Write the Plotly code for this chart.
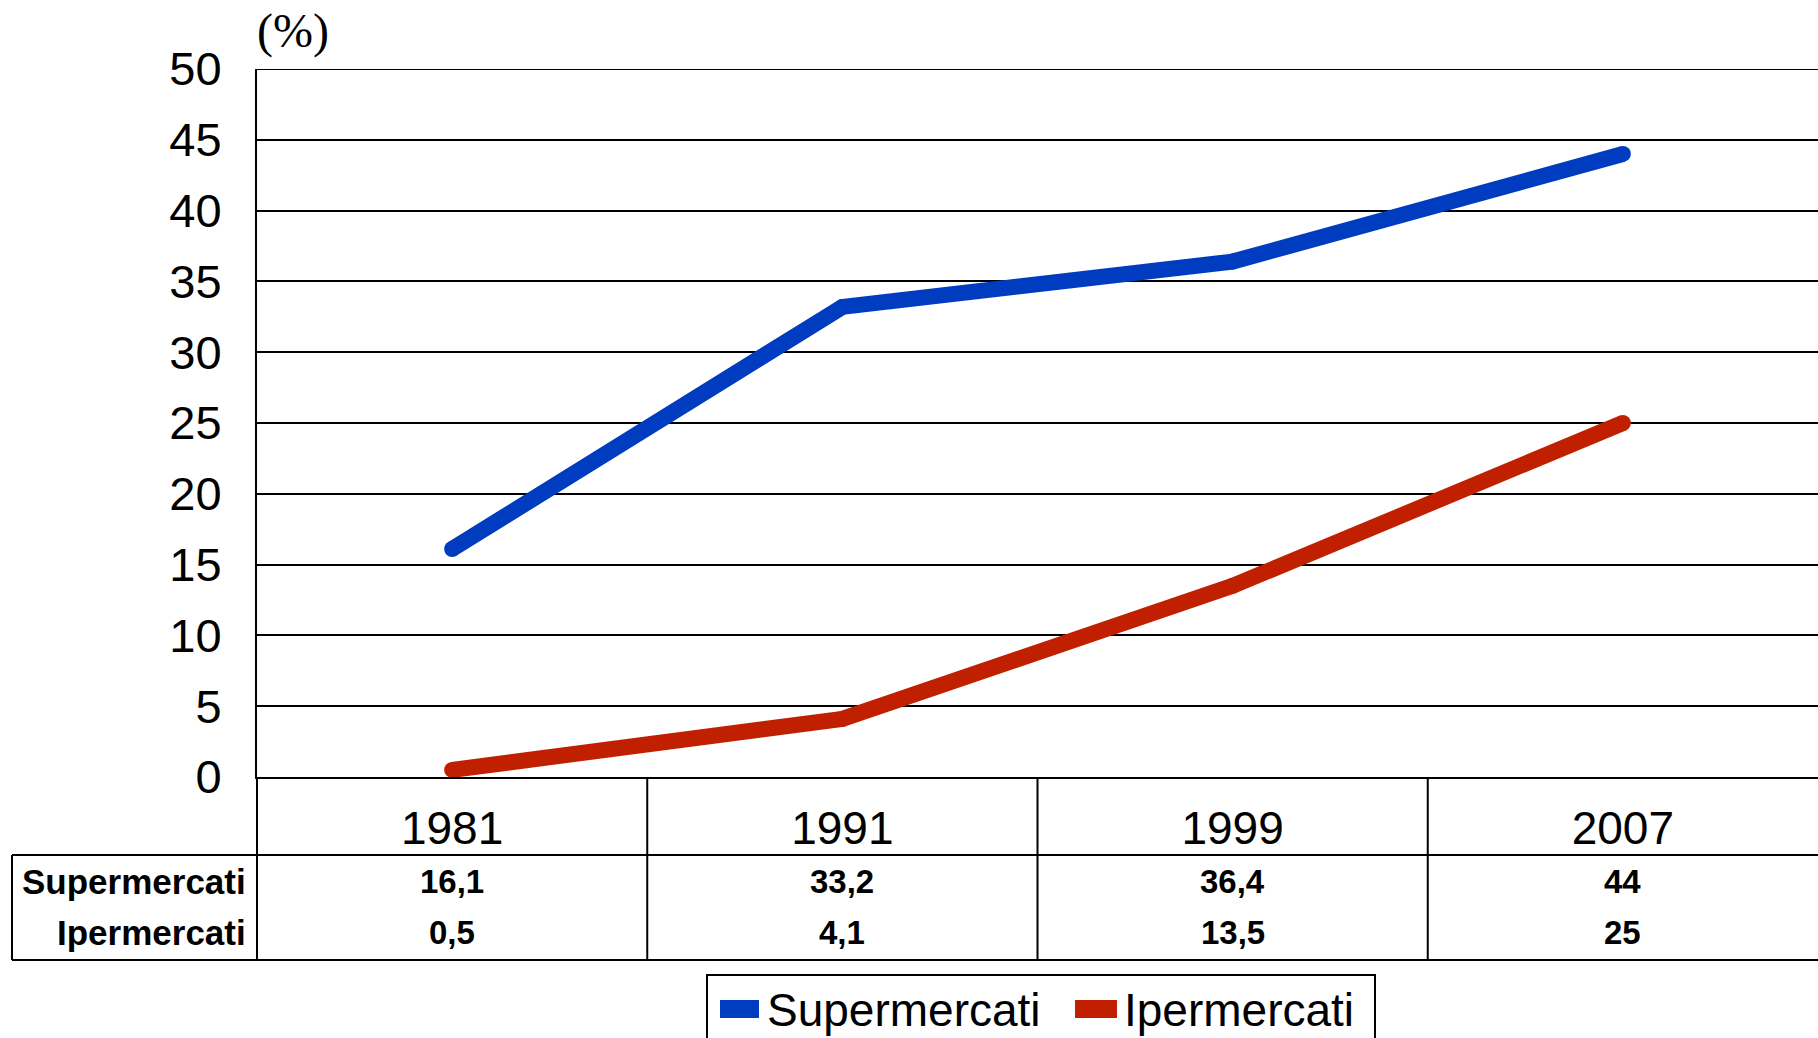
import plotly.graph_objects as go

years = ["1981", "1991", "1999", "2007"]
supermercati = [16.1, 33.2, 36.4, 44]
ipermercati = [0.5, 4.1, 13.5, 25]
super_labels = ["16,1", "33,2", "36,4", "44"]
iper_labels = ["0,5", "4,1", "13,5", "25"]
series_names = ["Supermercati", "Ipermercati"]
y_ticks = [0, 5, 10, 15, 20, 25, 30, 35, 40, 45, 50]

BLUE = "#003CC0"
RED = "#C02000"
W, H = 1818, 1038
L, T, B_AX = 257, 69, 777
PW = W - L
PH = B_AX - T
FONT = "Liberation Sans, Arial, sans-serif"


def py(Y):
    return (B_AX - Y) / PH


def px(X):
    return (X - L) / PW


fig = go.Figure()
for name, vals, col in [(series_names[0], supermercati, BLUE), (series_names[1], ipermercati, RED)]:
    fig.add_trace(go.Scatter(
        x=years, y=vals, name=name, mode="lines+markers",
        line=dict(color=col, width=16),
        marker=dict(color=col, size=16, symbol="circle"),
        showlegend=False, cliponaxis=False, hoverinfo="skip",
    ))

shapes = []
line_style = dict(color="black", width=2)
# top gridline (50)
shapes.append(dict(type="line", xref="paper", yref="y", x0=0, x1=1, y0=y_ticks[-1], y1=y_ticks[-1], line=line_style))
# extension of left axis through the table
shapes.append(dict(type="line", xref="paper", yref="paper", x0=0, x1=0, y0=py(777), y1=py(960), line=line_style))
# category dividers
for i in range(1, len(years)):
    shapes.append(dict(type="line", xref="x", yref="paper", x0=i - 0.5, x1=i - 0.5, y0=py(777), y1=py(960), line=line_style))
# table horizontal lines
for Y in (855, 960):
    shapes.append(dict(type="line", xref="paper", yref="paper", x0=px(12), x1=1.01, y0=py(Y), y1=py(Y), line=line_style))
# table left border
shapes.append(dict(type="line", xref="paper", yref="paper", x0=px(12), x1=px(12), y0=py(855), y1=py(960), line=line_style))

# manual legend box and keys
shapes.append(dict(type="rect", xref="paper", yref="paper", x0=px(707), x1=px(1375), y0=py(975), y1=py(1050),
                   line=line_style, fillcolor="white"))
shapes.append(dict(type="rect", xref="paper", yref="paper", x0=px(720), x1=px(759), y0=py(1000), y1=py(1018),
                   line=dict(width=0), fillcolor=BLUE))
shapes.append(dict(type="rect", xref="paper", yref="paper", x0=px(1075), x1=px(1117), y0=py(1000), y1=py(1018),
                   line=dict(width=0), fillcolor=RED))

annotations = []
# "(%)" label
annotations.append(dict(text="(%)", xref="paper", yref="paper", x=px(255), y=py(31), xanchor="left", yanchor="middle",
                        showarrow=False, font=dict(family="Liberation Serif, Times New Roman, serif", size=48, color="black")))
# table row labels and values
rows = [(series_names[0], super_labels, 881), (series_names[1], iper_labels, 932)]
for label, vals, Y in rows:
    annotations.append(dict(text="<b>%s</b>" % label, xref="paper", yref="paper", x=px(248), y=py(Y),
                            xanchor="right", yanchor="middle", showarrow=False,
                            font=dict(family=FONT, size=35, color="black")))
    for i, v in enumerate(vals):
        annotations.append(dict(text="<b>%s</b>" % v, xref="x", yref="paper", x=i, y=py(Y),
                                xanchor="center", yanchor="middle", showarrow=False,
                                font=dict(family="Liberation Sans Narrow, Liberation Sans, Arial, sans-serif", size=33, color="black")))
# legend texts
annotations.append(dict(text=series_names[0], xref="paper", yref="paper", x=px(765), y=py(1010), xanchor="left", yanchor="middle",
                        showarrow=False, font=dict(family=FONT, size=46, color="black")))
annotations.append(dict(text=series_names[1], xref="paper", yref="paper", x=px(1122), y=py(1010), xanchor="left", yanchor="middle",
                        showarrow=False, font=dict(family=FONT, size=46, color="black")))

fig.update_layout(
    width=W, height=H,
    margin=dict(l=L, r=0, t=T, b=H - B_AX, autoexpand=False),
    paper_bgcolor="white", plot_bgcolor="white",
    shapes=shapes, annotations=annotations,
    xaxis=dict(type="category", range=[-0.5, 3.5], showgrid=False, zeroline=False,
               showline=True, linecolor="black", linewidth=2, ticks="",
               tickfont=dict(family=FONT, size=46, color="black"), ticklabelstandoff=10),
    yaxis=dict(range=[0, 50], tickvals=y_ticks, showgrid=True, gridcolor="black", gridwidth=2,
               zeroline=False, showline=True, linecolor="black", linewidth=2, ticks="",
               tickfont=dict(family=FONT, size=47, color="black"), ticklabelstandoff=24),
    showlegend=False,
)

fig.write_html("out.html", config={"displayModeBar": False},
               post_script="document.body.style.margin='0';document.body.style.overflow='hidden';")
